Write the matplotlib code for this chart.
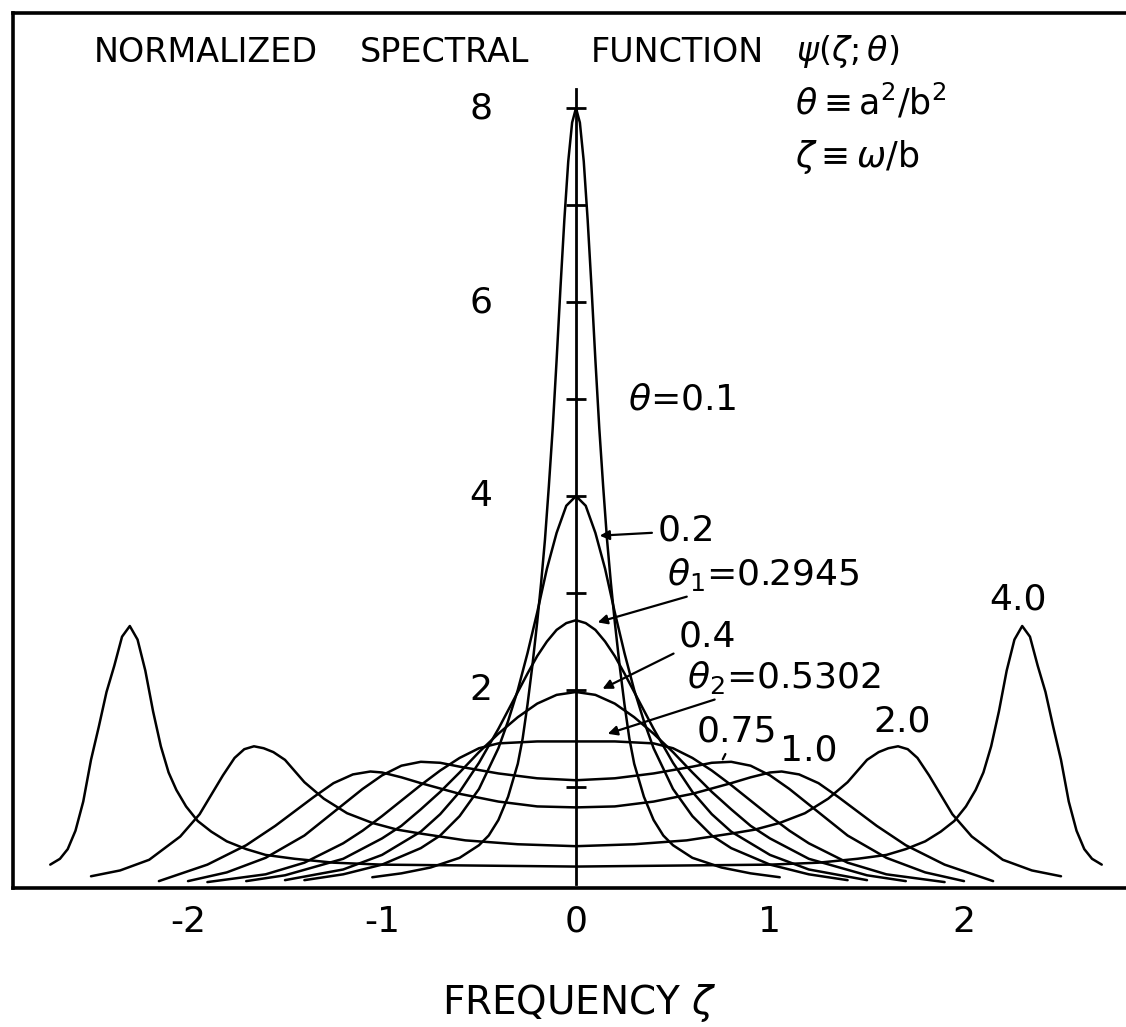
import numpy as np
import matplotlib
matplotlib.use("Agg")
import matplotlib.pyplot as plt

plt.rcParams['font.family'] = ['DejaVu Sans']
plt.rcParams['mathtext.fontset'] = 'dejavusans'

# theta values of the curves
thetas = ["0.1", "0.2", "0.2945", "0.4", "0.5302", "0.75", "1.0", "2.0", "4.0"]

# half profiles (zeta >= 0), curves are symmetric
z_01 = [0, 0.02, 0.04, 0.06, 0.08, 0.10, 0.12, 0.14, 0.16, 0.18, 0.2, 0.225, 0.25, 0.275,
        0.3, 0.35, 0.4, 0.45, 0.5, 0.6, 0.75, 0.9, 1.05]
p_01 = [8.0, 7.85, 7.45, 6.85, 6.15, 5.4, 4.7, 4.1, 3.55, 3.1, 2.7, 2.25, 1.85, 1.5,
        1.24, 0.9, 0.66, 0.5, 0.4, 0.27, 0.17, 0.11, 0.07]

z_02 = [0, 0.05, 0.1, 0.15, 0.2, 0.25, 0.3, 0.35, 0.4, 0.5, 0.6, 0.7, 0.8, 1.0, 1.2, 1.4]
p_02 = [4.0, 3.9, 3.62, 3.25, 2.8, 2.38, 2.0, 1.68, 1.4, 0.98, 0.7, 0.5, 0.37, 0.2, 0.1, 0.04]

z_03 = [0, 0.05, 0.1, 0.15, 0.2, 0.25, 0.3, 0.4, 0.5, 0.6, 0.7, 0.8, 1.0, 1.2, 1.5]
p_03 = [2.72, 2.69, 2.62, 2.5, 2.35, 2.17, 1.98, 1.6, 1.25, 0.95, 0.72, 0.54, 0.3, 0.15, 0.04]

z_04 = [0, 0.1, 0.2, 0.3, 0.4, 0.5, 0.6, 0.7, 0.8, 0.9, 1.0, 1.2, 1.5, 1.7]
p_04 = [1.98, 1.95, 1.86, 1.72, 1.55, 1.36, 1.15, 0.95, 0.77, 0.6, 0.47, 0.26, 0.09, 0.03]

z_05 = [0, 0.2, 0.4, 0.5, 0.6, 0.7, 0.8, 0.9, 1.0, 1.1, 1.2, 1.4, 1.6, 1.9]
p_05 = [1.47, 1.47, 1.45, 1.4, 1.3, 1.17, 1.02, 0.86, 0.7, 0.55, 0.42, 0.22, 0.1, 0.02]

z_075 = [0, 0.2, 0.4, 0.6, 0.7, 0.8, 0.9, 1.0, 1.1, 1.2, 1.3, 1.4, 1.6, 1.8, 2.0]
p_075 = [1.07, 1.09, 1.14, 1.21, 1.25, 1.26, 1.22, 1.12, 0.98, 0.82, 0.66, 0.5, 0.27, 0.12, 0.03]

z_10 = [0, 0.2, 0.4, 0.6, 0.8, 0.9, 1.0, 1.06, 1.15, 1.25, 1.35, 1.45, 1.55, 1.7, 1.9, 2.15]
p_10 = [0.79, 0.8, 0.85, 0.93, 1.04, 1.1, 1.15, 1.16, 1.13, 1.04, 0.9, 0.75, 0.6, 0.4, 0.2, 0.03]

z_20 = [0, 0.3, 0.57, 0.8, 0.92, 1.05, 1.18, 1.3, 1.4, 1.5, 1.56, 1.61, 1.66, 1.71, 1.76,
        1.82, 1.88, 1.94, 2.04, 2.2, 2.35, 2.5]
p_20 = [0.39, 0.41, 0.45, 0.52, 0.56, 0.63, 0.73, 0.88, 1.05, 1.28, 1.36, 1.40, 1.42, 1.39,
        1.30, 1.12, 0.92, 0.72, 0.49, 0.25, 0.14, 0.08]

z_40 = [0, 0.5, 1.0, 1.25, 1.45, 1.6, 1.7, 1.8, 1.88, 1.95, 2.01, 2.06, 2.1, 2.14, 2.18,
        2.22, 2.26, 2.3, 2.34, 2.38, 2.42, 2.46, 2.5, 2.54, 2.58, 2.62, 2.66, 2.71]
p_40 = [0.18, 0.19, 0.2, 0.22, 0.26, 0.3, 0.36, 0.44, 0.54, 0.65, 0.8, 0.97, 1.15, 1.42, 1.78,
        2.2, 2.52, 2.66, 2.55, 2.25, 1.98, 1.62, 1.28, 0.85, 0.55, 0.36, 0.26, 0.2]

curves = [(z_01, p_01), (z_02, p_02), (z_03, p_03), (z_04, p_04), (z_05, p_05),
          (z_075, p_075), (z_10, p_10), (z_20, p_20), (z_40, p_40)]

ytick_vals = [1, 2, 3, 4, 5, 6, 7, 8]
ytick_labels = ["2", "4", "6", "8"]
xtick_vals = [-2, -1, 0, 1, 2]
xtick_labels = ["-2", "-1", "0", "1", "2"]

W, H = 1126, 1027
fig = plt.figure(figsize=(W / 100, H / 100), dpi=100)
ax = fig.add_axes([13.4 / W, 1 - 888 / H, 1125.2 / W, 875 / H])
ax.set_xlim(-2.9, 2.9)
ax.set_ylim(-0.041, 8.98)

for z, p in curves:
    z = np.asarray(z)
    p = np.asarray(p)
    zz = np.concatenate([-z[::-1], z[1:]])
    pp = np.concatenate([p[::-1], p[1:]])
    ax.plot(zz, pp, color='black', lw=1.8, solid_joinstyle='round', solid_capstyle='round')

# central axis with cross ticks
ax.plot([0, 0], [0, 8.2], color='black', lw=2.0)
ax.hlines(ytick_vals, -0.05, 0.05, color='black', lw=2.0)
for lab in ytick_labels:
    ax.text(-0.49, float(lab), lab, fontsize=26, ha='center', va='center')

for s in ax.spines.values():
    s.set_linewidth(2.6)
ax.set_yticks([])
ax.set_xticks(xtick_vals)
ax.set_xticklabels(xtick_labels, fontsize=26)
ax.tick_params(axis='x', length=0, pad=12)

# title and definitions
fig.text(94 / W, 1 - 52 / H, "NORMALIZED", fontsize=24, ha='left', va='center')
fig.text(360 / W, 1 - 52 / H, "SPECTRAL", fontsize=24, ha='left', va='center')
fig.text(591 / W, 1 - 52 / H, "FUNCTION", fontsize=24, ha='left', va='center')
fig.text(848 / W, 1 - 52 / H, r"$\psi(\zeta{;}\theta)$", fontsize=24, ha='center', va='center')
fig.text(795 / W, 1 - 102 / H, r"$\theta\equiv\mathrm{a}^2/\mathrm{b}^2$", fontsize=25,
         ha='left', va='center')
fig.text(795 / W, 1 - 157 / H, r"$\zeta\equiv\omega/\mathrm{b}$", fontsize=25,
         ha='left', va='center')
fig.text(579 / W, 1 - 1003 / H, r"FREQUENCY $\zeta$", fontsize=28, ha='center', va='center')

# curve labels
lab_kw = dict(fontsize=26, ha='left', va='center')
arr = dict(arrowstyle='-|>', color='black', lw=1.6, mutation_scale=14)
ax.text(0.27, 5.0, r"$\theta$=0.1", **lab_kw)
ax.annotate("0.2", xy=(0.108, 3.59), xytext=(0.42, 3.64), arrowprops=arr, **lab_kw)
ax.annotate(r"$\theta_1$=0.2945", xy=(0.098, 2.69), xytext=(0.47, 3.19), arrowprops=arr, **lab_kw)
ax.annotate("0.4", xy=(0.124, 2.0), xytext=(0.53, 2.55), arrowprops=arr, **lab_kw)
ax.annotate(r"$\theta_2$=0.5302", xy=(0.15, 1.54), xytext=(0.57, 2.13), arrowprops=arr, **lab_kw)
ax.annotate("0.75", xy=(0.75, 1.26), xytext=(0.62, 1.57), arrowprops=dict(arrowstyle='-', lw=1.6),
            **lab_kw)
ax.text(1.20, 1.38, "1.0", fontsize=26, ha='center', va='center')
ax.text(1.68, 1.68, "2.0", fontsize=26, ha='center', va='center')
ax.text(2.28, 2.93, "4.0", fontsize=26, ha='center', va='center')

fig.savefig("out.png", dpi=100)
